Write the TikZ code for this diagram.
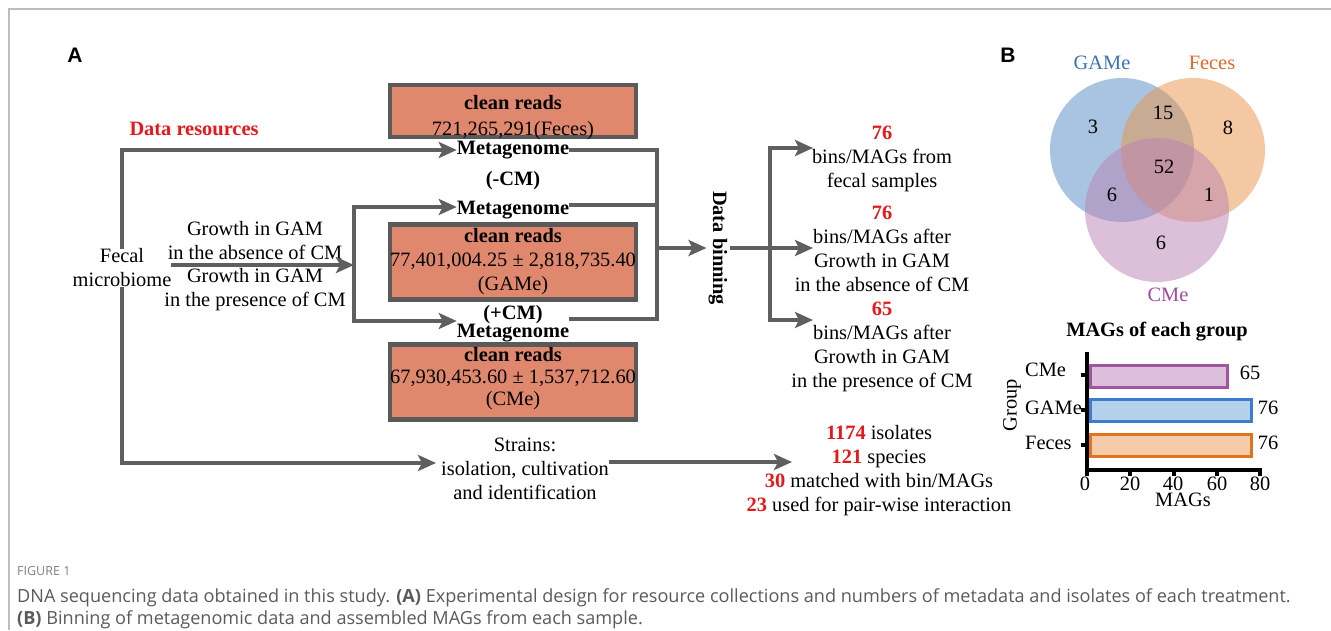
\documentclass[tikz,border=0pt]{standalone}
\usepackage{fontspec}
\setmainfont{Liberation Serif}
\newfontfamily\capfont{Open Sans}
\newfontfamily\panelfont{Liberation Sans}
\usepackage{tikz}
\usetikzlibrary{arrows.meta}
\definecolor{pipegray}{HTML}{5F5F5F}
\definecolor{boxfill}{HTML}{E0886E}
\definecolor{boxline}{HTML}{5A5A5A}
\definecolor{numred}{HTML}{E3191C}
\definecolor{framegray}{HTML}{BDBDBD}
\definecolor{captext}{HTML}{5A5A5A}
\definecolor{gamblue}{HTML}{5389C1}
\definecolor{fecorange}{HTML}{E99145}
\definecolor{cmpurple}{HTML}{B981B5}
\definecolor{gamtext}{HTML}{3E72B6}
\definecolor{fectext}{HTML}{E2682A}
\definecolor{cmtext}{HTML}{9C4C98}
\definecolor{cmbarline}{HTML}{A0569E}
\definecolor{cmbarfill}{HTML}{DDBFDB}
\definecolor{gambarline}{HTML}{3B7DD0}
\definecolor{gambarfill}{HTML}{B5D0EA}
\definecolor{fecbarline}{HTML}{E2731E}
\definecolor{fecbarfill}{HTML}{F6CBAA}
\newcommand{\rednum}[1]{\textcolor{numred}{\textbf{#1}}}

\begin{document}
\begin{tikzpicture}[x=1pt,y=-1pt,
  txt/.style={align=center,inner sep=0pt,font=\fontsize{20.4}{24}\selectfont},
  btxt/.style={txt,font=\fontsize{20.4}{24}\selectfont\bfseries},
  panel/.style={inner sep=0pt,font=\panelfont\bfseries\fontsize{21}{24}\selectfont},
  pipe/.style={draw=pipegray,line width=4pt},
  flow/.style={pipe,-{Stealth[length=18pt,width=16pt,inset=4pt]}},
  readbox/.style={draw=boxline,fill=boxfill,line width=4.5pt,minimum width=246pt,inner sep=0pt},
  axisline/.style={draw=black,line width=3.5pt},
  captxt/.style={anchor=west,inner sep=0pt,text=captext,font=\capfont\fontsize{18.1}{21}\selectfont}]
\useasboundingbox (0,0) rectangle (1331,630);
\draw [framegray,line width=2pt] (9,630) -- (9,9) -- (1331,9);

\node[panel] (panelA) at (75,55) {A};
\node[panel] (panelB) at (1008,55) {B};

\node[btxt,text=numred] (datares) at (194,129) {Data resources};
\node[txt] (fecal) at (122,268) {Fecal\\microbiome};
\node[txt] (growthA) at (255,241) {Growth in GAM\\in the absence of CM};
\node[txt] (growthB) at (255,290) {Growth in GAM\\in the presence of CM};

\node[readbox,minimum height=52pt] (box1) at (513,111) {};
\node[txt] (reads1) at (513,118) {\textbf{clean reads}\\[2pt]721,265,291(Feces)};
\node[readbox,minimum height=75pt] (box2) at (513,262) {};
\node[txt] (reads2) at (513,262) {\textbf{clean reads}\\77,401,004.25 ± 2,818,735.40\\(GAMe)};
\node[readbox,minimum height=75pt] (box3) at (513,382) {};
\node[txt] (reads3) at (513,379) {\textbf{clean reads}\\[-2pt]67,930,453.60 ± 1,537,712.60\\[-2pt](CMe)};

\node[btxt] (meta1) at (513,150) {Metagenome};
\node[btxt] (meta2) at (513,195) {(-CM)\\[5pt]Metagenome};
\node[btxt] (meta3) at (513,324) {(+CM)\\[-6pt]Metagenome};

\coordinate (gmid) at (354,265);
\coordinate (gtop) at (354,207);
\coordinate (gbot) at (354,321);
\draw [flow] (fecal.north) |- (meta1.west);
\draw [flow] (gmid) |- (gtop -| meta2.west);
\draw [flow] (gmid) |- (gbot -| meta3.west);
\draw [flow] (fecal.east |- gmid) -- (gmid);

\node[txt] (strains) at (525,469) {Strains:\\isolation, cultivation\\and identification};
\coordinate (isoin) at (436,463);
\coordinate (isotip) at (792,462);
\draw [flow] (fecal.south) |- (isoin);
\draw [flow] (strains.east |- isotip) -- (isotip);
\node[txt] (isolates) at (879,471) {\rednum{1174} isolates\\\rednum{121} species\\\rednum{30} matched with bin/MAGs\\\rednum{23} used for pair-wise interaction};

\coordinate (merge) at (657,248);
\draw [pipe] (meta1.east) -| (merge);
\draw [pipe] ([yshift=5pt]meta3.east) -| (merge);
\draw [pipe] ([yshift=-10pt]meta2.east) -- ([yshift=-10pt]meta2.east -| merge);
\node[btxt,rotate=-90,inner sep=2pt] (binning) at (718,248) {Data binning};
\draw [flow] (merge) -- (binning.south);

\coordinate (bsplit) at (770,248);
\coordinate (tip1) at (813,148);
\coordinate (tip2) at (813,248);
\coordinate (tip3) at (813,320);
\draw [flow] (binning.north) -- (tip2);
\draw [flow] (bsplit) |- (tip1);
\draw [flow] (bsplit) |- (tip3);
\node[txt] (res1) at (882,159) {\rednum{76}\\bins/MAGs from\\fecal samples};
\node[txt] (res2) at (882,249) {\rednum{76}\\bins/MAGs after\\Growth in GAM\\in the absence of CM};
\node[txt] (res3) at (882,347) {\rednum{65}\\bins/MAGs after\\Growth in GAM\\in the presence of CM};

\fill [gamblue,fill opacity=0.5] (1122,150) circle [radius=72];
\fill [fecorange,fill opacity=0.5] (1193,150) circle [radius=72];
\fill [cmpurple,fill opacity=0.5] (1157,210) circle [radius=72];
\node[txt,text=gamtext] (setG) at (1102,63) {GAMe};
\node[txt,text=fectext] (setF) at (1212,63) {Feces};
\node[txt,text=cmtext] (setC) at (1168,295) {CMe};
\node[txt] (vG) at (1093,127) {3};
\node[txt] (vGF) at (1163,113) {15};
\node[txt] (vF) at (1228,128) {8};
\node[txt] (vGFC) at (1164,167) {52};
\node[txt] (vGC) at (1112,195) {6};
\node[txt] (vFC) at (1209,195) {1};
\node[txt] (vC) at (1161,243) {6};

\node[btxt] (bartitle) at (1157,332) {MAGs of each group};
\draw [cmbarline,fill=cmbarfill,line width=3pt] (1090,365) rectangle (1227,387);
\draw [gambarline,fill=gambarfill,line width=3pt] (1090,399.5) rectangle (1251.5,421.5);
\draw [fecbarline,fill=fecbarfill,line width=3pt] (1090,434.5) rectangle (1251.5,456.5);
\draw [axisline] (1087,352) -- (1087,470) -- (1262,470);
\draw [axisline] (1087,375) -- (1081,375);
\draw [axisline] (1087,410) -- (1081,410);
\draw [axisline] (1087,445) -- (1081,445);
\draw [axisline] (1087,470) -- (1087,476);
\draw [axisline] (1130,470) -- (1130,476);
\draw [axisline] (1174,470) -- (1174,476);
\draw [axisline] (1217,470) -- (1217,476);
\draw [axisline] (1260,470) -- (1260,476);
\node[txt] (valC) at (1250,373) {65};
\node[txt] (valG) at (1268,408) {76};
\node[txt] (valF) at (1268,443) {76};
\node[txt,anchor=west] (catC) at (1025,370) {CMe};
\node[txt,anchor=west] (catG) at (1025,408) {GAMe};
\node[txt,anchor=west] (catF) at (1025,443) {Feces};
\node[txt] (tick0) at (1085,484) {0};
\node[txt] (tick20) at (1130,484) {20};
\node[txt] (tick40) at (1173,484) {40};
\node[txt] (tick60) at (1217,484) {60};
\node[txt] (tick80) at (1260,484) {80};
\node[txt] (xtitle) at (1183,500) {MAGs};
\node[txt,rotate=90] (ytitle) at (1012,405) {Group};

\node[captxt,text=gray,font=\capfont\fontsize{12.5}{14}\selectfont] (figlabel) at (17,571) {FIGURE 1};
\node[captxt] (cap1) at (17,598) {DNA sequencing data obtained in this study. \textbf{(A)} Experimental design for resource collections and numbers of metadata and isolates of each treatment.};
\node[captxt] (cap2) at (17,620) {\textbf{(B)} Binning of metagenomic data and assembled MAGs from each sample.};
\end{tikzpicture}
\end{document}
